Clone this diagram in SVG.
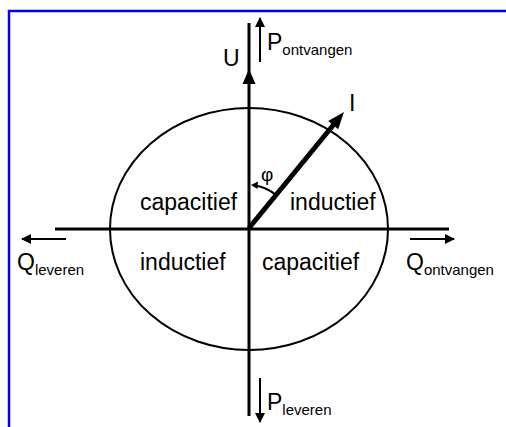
<svg xmlns="http://www.w3.org/2000/svg" width="506" height="427" viewBox="0 0 506 427">
<style>
text{font-family:"Liberation Sans",Arial,sans-serif;fill:#000}
.lbl{font-size:23px}
.sub{font-size:15px}
.ax{stroke:#000;stroke-width:3;fill:none}
.thin{stroke:#000;stroke-width:2;fill:none}
</style>
<defs>
<marker id="ahs" viewBox="0 0 10 10" refX="9" refY="5" markerWidth="5" markerHeight="5" orient="auto" markerUnits="strokeWidth">
<path d="M0,0 L10,5 L0,10 z" fill="#000"/>
</marker>
</defs>
<path d="M9,427 L9,11 L506,11" fill="none" stroke="#0000ee" stroke-width="2.5"/>
<g id="connectors">
<ellipse cx="249" cy="229" rx="139" ry="121" class="thin"/>
<line x1="55" y1="229" x2="449" y2="229" class="ax"/>
<line x1="249" y1="23" x2="249" y2="416" class="ax"/>
<path d="M249,69 L255.5,84 L242.5,84 z" fill="#000"/>
<line x1="249" y1="228" x2="335" y2="123" stroke="#000" stroke-width="5"/>
<path d="M344,112 L338.2,129.3 L328.2,121.1 z" fill="#000"/>
<path d="M276,195 A43,43 0 0 0 255,185.5" class="thin" stroke-width="1.5"/>
<path d="M251,185 L258,181.5 L257.5,189 z" fill="#000"/>
<line x1="260" y1="62" x2="260" y2="18" class="thin" marker-end="url(#ahs)"/>
<line x1="260" y1="378" x2="260" y2="422" class="thin" marker-end="url(#ahs)"/>
<line x1="66" y1="239" x2="22" y2="239" class="thin" marker-end="url(#ahs)"/>
<line x1="410" y1="239" x2="454" y2="239" class="thin" marker-end="url(#ahs)"/>
</g>
<g id="U"><text class="lbl" x="223" y="66">U</text></g>
<g id="I"><text class="lbl" x="349" y="111">I</text></g>
<g id="phi"><text x="261" y="181" style="font-size:19px">φ</text></g>
<g id="P-ontvangen"><text class="lbl" x="267" y="50">P<tspan class="sub" dy="5">ontvangen</tspan></text></g>
<g id="P-leveren"><text class="lbl" x="267" y="410">P<tspan class="sub" dy="5">leveren</tspan></text></g>
<g id="Q-leveren"><text class="lbl" x="17" y="270">Q<tspan class="sub" dy="5">leveren</tspan></text></g>
<g id="Q-ontvangen"><text class="lbl" x="406" y="270">Q<tspan class="sub" dy="5">ontvangen</tspan></text></g>
<g id="cap-ul"><text class="lbl" x="140" y="210">capacitief</text></g>
<g id="ind-ur"><text class="lbl" x="290" y="210">inductief</text></g>
<g id="ind-ll"><text class="lbl" x="140" y="270">inductief</text></g>
<g id="cap-lr"><text class="lbl" x="262" y="270">capacitief</text></g>
</svg>
